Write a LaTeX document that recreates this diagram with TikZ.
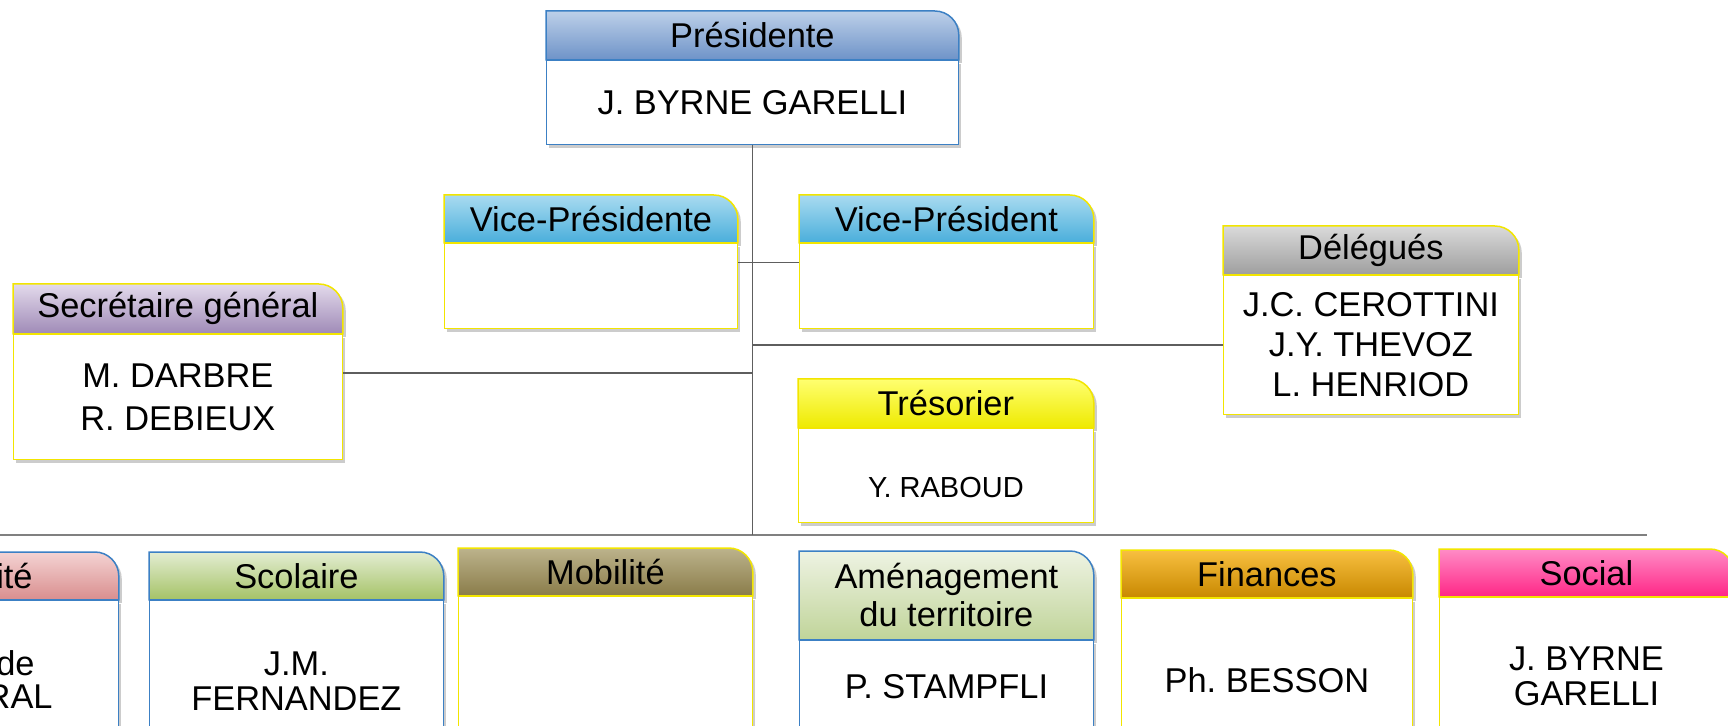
\documentclass[tikz,border=0pt]{standalone}
\usepackage{fontspec}
\setmainfont{Liberation Sans}
\usetikzlibrary{positioning,shadows,backgrounds}

\definecolor{bluebd}{HTML}{3C80C4}
\definecolor{yellowbd}{HTML}{F2E500}
\definecolor{linegray}{HTML}{5E5E5E}
\definecolor{bargray}{HTML}{808080}
\definecolor{presT}{HTML}{BDD0E9}\definecolor{presB}{HTML}{6E93C8}
\definecolor{viceT}{HTML}{A9DBF0}\definecolor{viceB}{HTML}{49AEDB}
\definecolor{secT}{HTML}{E3DAEB}\definecolor{secB}{HTML}{9F8AB7}
\definecolor{delT}{HTML}{DADADA}\definecolor{delB}{HTML}{9E9E9E}
\definecolor{tresT}{HTML}{FFFF70}\definecolor{tresB}{HTML}{EEEA00}
\definecolor{secuT}{HTML}{F4D3D3}\definecolor{secuB}{HTML}{D98E8E}
\definecolor{scolT}{HTML}{E3EDD2}\definecolor{scolB}{HTML}{A5C266}
\definecolor{mobT}{HTML}{BCB38C}\definecolor{mobB}{HTML}{8A7C49}
\definecolor{amenT}{HTML}{EEF3E3}\definecolor{amenB}{HTML}{C0D499}
\definecolor{finT}{HTML}{F8C040}\definecolor{finB}{HTML}{C88800}
\definecolor{socT}{HTML}{FF8CC6}\definecolor{socB}{HTML}{FF2686}

% header band with one rounded corner (top right), drawn behind the text
\newcommand\hdframe[4]{%
  \begin{scope}[on background layer]
    \shade[top color=#3, bottom color=#4, draw=#2, line width=0.75pt, shdw]
      (#1.south west) -- (#1.north west) -- ([xshift=-12pt]#1.north east)
      arc[start angle=90, end angle=0, radius=12pt] -- (#1.south east) -- cycle;
  \end{scope}}

\begin{document}
\begin{tikzpicture}[x=0.5pt, y=-0.5pt, font=\fontsize{17.2}{20}\selectfont,
  shdw/.style={drop shadow={shadow xshift=1.5pt, shadow yshift=-1.5pt, opacity=.2, fill=black}},
  hd/.style={inner sep=0pt, minimum width=#1, minimum height=24pt, anchor=north west, align=center},
  hd/.default=147pt,
  bd/.style={draw, fill=white, line width=0.75pt, inner sep=0pt, align=center, minimum width=#1, shdw},
  bd/.default=147pt,
  link/.style={draw=linegray, line width=0.6pt},
  bar/.style={draw=bargray, line width=1.3pt}]
  \useasboundingbox (0,0) rectangle (1728,726);

  % bureau
  \node (pres) [hd=206pt] at (546,11) {Présidente};
  \node (presb) [bd=206pt, draw=bluebd, minimum height=42pt, below=0pt of pres] {J. BYRNE GARELLI};
  \hdframe{pres}{bluebd}{presT}{presB}

  \node (vpf) [hd=146.5pt, minimum height=23.5pt] at (444,195) {Vice-Présidente};
  \node (vpfb) [bd=146.5pt, draw=yellowbd, minimum height=42.5pt, below=0pt of vpf] {};
  \hdframe{vpf}{yellowbd}{viceT}{viceB}

  \node (vpm) [hd, minimum height=23.5pt] at (799,195) {Vice-Président};
  \node (vpmb) [bd, draw=yellowbd, minimum height=42.5pt, below=0pt of vpm] {};
  \hdframe{vpm}{yellowbd}{viceT}{viceB}

  \node (sec) [hd=164.5pt, minimum height=24.5pt] at (13,284) {Secrétaire général};
  \node (secb) [bd=164.5pt, draw=yellowbd, minimum height=62.5pt, below=0pt of sec,
    font=\fontsize{17.2}{21.5}\selectfont] {M. DARBRE\\R. DEBIEUX};
  \hdframe{sec}{yellowbd}{secT}{secB}

  \node (del) [hd=147.5pt] at (1223,226) {Délégués};
  \node (delb) [bd=147.5pt, draw=yellowbd, minimum height=69.5pt, below=0pt of del]
    {J.C. CEROTTINI\\J.Y. THEVOZ\\L. HENRIOD};
  \hdframe{del}{yellowbd}{delT}{delB}

  \node (tres) [hd=147.5pt] at (798,379) {Trésorier};
  \node (tresb) [bd=147.5pt, draw=yellowbd, minimum height=47pt, below=0pt of tres,
    font=\fontsize{14.5}{17}\selectfont, text height=21.5pt, text depth=0pt] {Y. RABOUD};
  \hdframe{tres}{yellowbd}{tresT}{tresB}

  % dicasteres
  \node (secu) [hd, minimum height=23.5pt] at (-176,552) {};
  \node (secub) [bd, draw=bluebd, minimum height=81pt, below=0pt of secu] {};
  \hdframe{secu}{bluebd}{secuT}{secuB}
  \node (secut) [anchor=east, inner sep=0pt] at (33,576) {ité};
  \node (secul1) [anchor=east, inner sep=0pt] at (35,663) {de};
  \node (secul2) [anchor=east, inner sep=0pt] at (53,697) {RAL};

  \node (scol) [hd, minimum height=23.5pt] at (149,552) {Scolaire};
  \node (scolb) [bd, draw=bluebd, minimum height=81pt, below=0pt of scol,
    font=\fontsize{17.2}{17.5}\selectfont] {J.M.\\FERNANDEZ};
  \hdframe{scol}{bluebd}{scolT}{scolB}

  \node (mob) [hd, minimum height=23.5pt] at (458,548) {Mobilité};
  \node (mobb) [bd, draw=yellowbd, minimum height=83pt, below=0pt of mob] {};
  \hdframe{mob}{yellowbd}{mobT}{mobB}

  \node (amen) [hd, minimum height=44pt, font=\fontsize{17.2}{19}\selectfont] at (799,551)
    {Aménagement\\du territoire};
  \node (amenb) [bd, draw=bluebd, minimum height=46pt, below=0pt of amen] {P. STAMPFLI};
  \hdframe{amen}{bluebd}{amenT}{amenB}

  \node (fin) [hd=145.5pt, minimum height=23.5pt] at (1121,550) {Finances};
  \node (finb) [bd=145.5pt, draw=yellowbd, minimum height=82pt, below=0pt of fin] {Ph.\ BESSON};
  \hdframe{fin}{yellowbd}{finT}{finB}

  \node (soc) [hd, minimum height=23.5pt] at (1439,549) {Social};
  \node (socb) [bd, draw=yellowbd, minimum height=79pt, below=0pt of soc,
    font=\fontsize{17.2}{17.5}\selectfont] {J. BYRNE\\GARELLI};
  \hdframe{soc}{yellowbd}{socT}{socB}

  % liaisons
  \coordinate (barl) at (0,535);
  \coordinate (barr) at (1647,535);
  \draw[bar] (barl) -- (barr);
  \draw[link] (presb.south) -- (presb.south |- barl);
  \draw[link] ([yshift=-10pt]vpfb.north east) -- ([yshift=-10pt]vpmb.north west);
  \draw[link] (presb.south |- delb.west) -- (delb.west);
  \draw[link] ([yshift=12pt]secb.east) coordinate (secl) -- (secl -| presb.south);
\end{tikzpicture}
\end{document}
